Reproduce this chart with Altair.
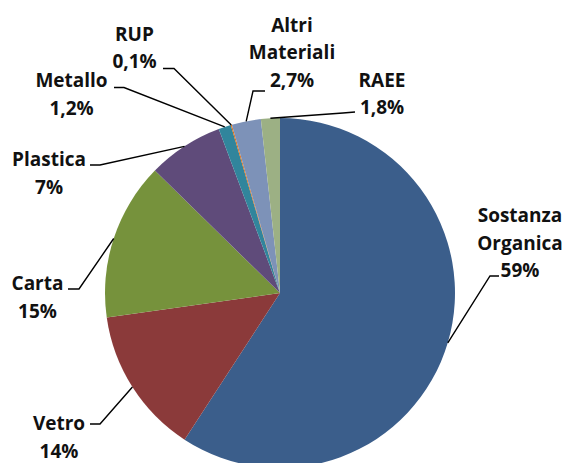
import math
import altair as alt
import pandas as pd

# ---- data ----
categories = ["Sostanza Organica", "Vetro", "Carta", "Plastica", "Metallo", "RUP", "Altri Materiali", "RAEE"]
label_lines = [["Sostanza", "Organica"], ["Vetro"], ["Carta"], ["Plastica"], ["Metallo"], ["RUP"], ["Altri", "Materiali"], ["RAEE"]]
pct_labels = ["59%", "14%", "15%", "7%", "1,2%", "0,1%", "2,7%", "1,8%"]
values = [59.3, 13.6, 14.6, 7.0, 1.15, 0.1, 2.7, 1.75]
colors = ["#3B5E8B", "#8B3A3A", "#76923C", "#5F4B7A", "#31859C", "#E46C0A", "#7D92B8", "#9CB084"]

# ---- layout (page pixels) ----
OFF = 8
CX, CY, R = 280, 293, 175
# label anchor: centre x, first-line baseline y
label_pos = [(520, 222), (59, 430), (37.5, 290), (49, 166), (71.5, 87), (134.5, 40.5), (292, 31.5), (382, 86.5)]
# leader lines: elbow point and end point
leader_elbow = [(490, 276), (100, 424), (79, 289), (100, 165), (124, 87.5), (174, 68.5), (253, 91), (343, 113)]
leader_end = [(499, 276), (90, 424), (68, 289), (90, 165), (114, 87.5), (163, 68.5), (265, 91), (355, 112)]

n = len(categories)
pie_df = pd.DataFrame({"cat": categories, "value": values, "idx": list(range(n))})

total = sum(values)
rows = []
cum = 0.0
for i in range(n):
    mid = (cum + values[i] / 2) / total * 2 * math.pi
    cum += values[i]
    sx = CX + R * math.sin(mid)
    sy = CY - R * math.cos(mid)
    pts = [(sx, sy), leader_elbow[i], leader_end[i]]
    for k, (px, py) in enumerate(pts):
        rows.append({"cat": categories[i], "k": k, "px": px - OFF, "py": py - OFF})
line_df = pd.DataFrame(rows)

text_df = pd.DataFrame({
    "cat": categories,
    "txt": ["\n".join(label_lines[i] + [pct_labels[i]]) for i in range(n)],
    "lx": [p[0] - OFF for p in label_pos],
    "ly": [p[1] - OFF for p in label_pos],
})

pie = alt.Chart(pie_df).mark_arc(outerRadius=R, stroke=None).encode(
    theta=alt.Theta("value:Q", stack=True),
    order=alt.Order("idx:Q"),
    color=alt.Color("cat:N", scale=alt.Scale(domain=categories, range=colors), legend=None),
    x=alt.value(CX - OFF),
    y=alt.value(CY - OFF),
)

leaders = alt.Chart(line_df).mark_line(color="#000000", strokeWidth=1.4).encode(
    x=alt.X("px:Q", scale=None, axis=None),
    y=alt.Y("py:Q", scale=None, axis=None),
    detail="cat:N",
    order="k:Q",
)

labels = alt.Chart(text_df).mark_text(
    lineBreak="\n", lineHeight=27.5, align="center", baseline="alphabetic",
    font="Open Sans", fontWeight="bold", fontSize=19, color="#111111",
).encode(
    x=alt.X("lx:Q", scale=None, axis=None),
    y=alt.Y("ly:Q", scale=None, axis=None),
    text="txt:N",
)

chart = alt.layer(pie, leaders, labels).properties(
    width=557, height=455, autosize=alt.AutoSizeParams(type="none"), padding=0,
    background="white",
).configure_view(stroke=None)

chart.save("out.html", embed_options={"renderer": "svg", "actions": False})
